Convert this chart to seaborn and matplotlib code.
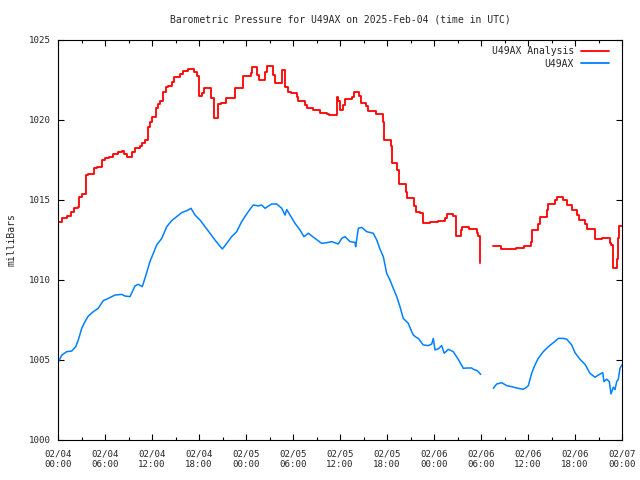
import numpy as np
import pandas as pd
import matplotlib
matplotlib.use("Agg")
import matplotlib.pyplot as plt
from matplotlib.lines import Line2D
from matplotlib.ticker import MultipleLocator
import seaborn as sns

# ---------------- data (hours after 2025-02-04 00:00 UTC, millibars) ----------------
red_hours = [0.0, 0.55, 1.1, 1.66, 2.04, 2.5, 2.7, 3.02, 3.57, 3.79, 4.6, 4.94, 5.57, 6.0, 6.51,
             7.06, 7.62, 8.13, 8.43, 8.77, 9.49, 9.83, 10.47, 10.77, 11.1, 11.45, 11.75, 12.04,
             12.47, 12.72, 13.0, 13.45, 13.75, 14.08, 14.5, 14.85, 15.57, 16.0, 16.64, 17.4, 17.7,
             18.0, 18.43, 18.68, 19.53, 19.96, 20.47, 20.77, 21.45, 22.6, 23.58, 24.6, 24.73,
             25.37, 25.7, 26.43, 26.72, 27.41, 27.7, 28.56, 28.98, 29.4, 29.7, 30.47, 30.68,
             31.53, 31.75, 32.51, 33.45, 34.38, 34.63, 35.58, 35.78, 36.0, 36.42, 36.64, 37.49,
             37.79, 38.46, 38.64, 39.32, 39.61, 40.6, 41.45, 41.66, 42.51, 42.68, 43.32, 43.57,
             44.43, 44.59, 45.49, 45.7, 46.21, 46.63, 47.49, 48.55, 49.4, 49.62, 50.46, 50.87,
             51.41, 51.61, 52.51, 53.45, 53.66, 53.91, np.nan,
             55.57, 56.55, 58.47, 59.49, 60.34, 60.55, 61.32, 61.53, 62.39, 62.59, 63.45, 63.66,
             64.51, 64.98, 65.58, 66.26, 66.55, 67.34, 67.57, 68.55, 69.49, 70.47, 70.6, 70.89,
             71.32, 71.49, 71.62, 72.0]
red_mbar = [1013.6, 1013.88, 1014.0, 1014.27, 1014.48, 1014.58, 1015.2, 1015.4, 1016.56, 1016.6,
            1016.98, 1017.04, 1017.5, 1017.6, 1017.7, 1017.85, 1017.98, 1018.06, 1017.9, 1017.67,
            1018.0, 1018.23, 1018.4, 1018.58, 1018.75, 1019.58, 1019.9, 1020.17, 1020.73, 1021.0,
            1021.2, 1021.77, 1022.08, 1022.1, 1022.4, 1022.67, 1022.9, 1023.06, 1023.17, 1023.0,
            1022.75, 1021.5, 1021.7, 1021.98, 1021.35, 1020.1, 1021.0, 1021.04, 1021.35, 1021.98,
            1022.75, 1022.96, 1023.3, 1022.8, 1022.5, 1023.0, 1023.37, 1022.8, 1022.3, 1023.1,
            1022.04, 1021.77, 1021.67, 1021.46, 1021.19, 1020.94, 1020.73, 1020.63, 1020.46,
            1020.38, 1020.31, 1021.42, 1021.2, 1020.63, 1020.94, 1021.29, 1021.46, 1021.73,
            1021.5, 1021.08, 1020.88, 1020.56, 1020.38, 1019.9, 1018.75, 1018.4, 1017.33, 1016.9,
            1016.0, 1015.5, 1015.15, 1014.6, 1014.25, 1014.2, 1013.54, 1013.6, 1013.69, 1013.9,
            1014.1, 1014.0, 1012.75, 1013.1, 1013.33, 1013.19, 1012.94, 1012.75, 1011.08, np.nan,
            1012.1, 1011.94, 1012.0, 1012.1, 1012.4, 1013.13, 1013.5, 1013.92, 1014.4, 1014.73,
            1015.0, 1015.17, 1015.0, 1014.7, 1014.38, 1014.05, 1013.75, 1013.5, 1013.19, 1012.56,
            1012.6, 1012.3, 1012.19, 1010.73, 1011.3, 1012.6, 1013.38, 1013.38]

blue_hours = [0.0, 0.47, 1.11, 1.75, 2.26, 2.59, 3.03, 3.45, 3.87, 4.51, 5.14, 5.78, 6.42, 7.28,
              8.13, 8.55, 9.19, 9.83, 10.25, 10.76, 11.32, 11.74, 12.17, 12.6, 13.24, 13.88,
              14.51, 15.15, 15.79, 16.43, 16.98, 17.49, 18.13, 18.77, 19.4, 20.04, 20.55, 20.98,
              21.54, 22.17, 22.81, 23.45, 24.09, 24.51, 24.93, 25.57, 26.0, 26.43, 27.28, 27.92,
              28.56, 28.98, 29.2, 29.62, 30.26, 30.89, 31.4, 31.95, 32.81, 33.66, 34.3, 34.94,
              35.78, 36.22, 36.64, 37.28, 37.91, 38.0, 38.34, 38.77, 39.41, 40.25, 40.69, 41.11,
              41.53, 41.96, 42.38, 42.8, 43.24, 43.66, 44.08, 44.72, 45.15, 45.36, 45.79, 46.0,
              46.63, 47.27, 47.71, 47.91, 48.13, 48.55, 48.98, 49.31, 49.83, 50.46, 51.1, 51.74,
              52.17, 52.81, 53.02, 53.53, 53.96, np.nan,
              55.57, 56.0, 56.64, 57.28, 57.92, 58.76, 59.4, 59.83, 60.04, 60.47, 60.89, 61.31,
              61.95, 62.59, 63.23, 63.87, 64.51, 64.94, 65.58, 66.0, 66.64, 67.28, 67.91, 68.55,
              68.98, 69.54, 69.7, 70.05, 70.38, 70.6, 70.89, 71.11, 71.32, 71.53, 71.74, 72.0]
blue_mbar = [1004.83, 1005.3, 1005.52, 1005.56, 1005.83, 1006.25, 1006.98, 1007.4, 1007.75,
             1008.02, 1008.23, 1008.71, 1008.85, 1009.06, 1009.1, 1009.0, 1008.96, 1009.63,
             1009.73, 1009.58, 1010.46, 1011.15, 1011.67, 1012.19, 1012.6, 1013.33, 1013.71,
             1013.96, 1014.21, 1014.33, 1014.48, 1014.06, 1013.75, 1013.33, 1012.92, 1012.5,
             1012.19, 1011.94, 1012.29, 1012.71, 1013.02, 1013.65, 1014.13, 1014.42, 1014.69,
             1014.63, 1014.69, 1014.48, 1014.75, 1014.75, 1014.48, 1014.06, 1014.4, 1014.06,
             1013.54, 1013.13, 1012.71, 1012.92, 1012.6, 1012.29, 1012.33, 1012.4, 1012.25,
             1012.6, 1012.71, 1012.4, 1012.35, 1012.08, 1013.23, 1013.29, 1013.02, 1012.92,
             1012.5, 1011.92, 1011.46, 1010.42, 1010.0, 1009.48, 1008.96, 1008.33, 1007.6,
             1007.29, 1006.77, 1006.56, 1006.4, 1006.35, 1005.94, 1005.9, 1006.0, 1006.35,
             1005.63, 1005.7, 1005.9, 1005.42, 1005.67, 1005.52, 1005.04, 1004.48, 1004.5,
             1004.5, 1004.42, 1004.33, 1004.1, np.nan,
             1003.23, 1003.5, 1003.58, 1003.4, 1003.33, 1003.23, 1003.17, 1003.3, 1003.4,
             1004.17, 1004.69, 1005.1, 1005.52, 1005.83, 1006.08, 1006.35, 1006.35, 1006.3,
             1005.94, 1005.46, 1005.04, 1004.73, 1004.17, 1003.92, 1004.06, 1004.21, 1003.65,
             1003.8, 1003.65, 1002.88, 1003.3, 1003.15, 1003.65, 1003.8, 1004.48, 1004.7]

series_names = ["U49AX Analysis", "U49AX"]
series_colors = ["#ff0000", "#0080ff"]
tick_hours = [0, 6, 12, 18, 24, 30, 36, 42, 48, 54, 60, 66, 72]
tick_labels = ["02/04\n00:00", "02/04\n06:00", "02/04\n12:00", "02/04\n18:00",
               "02/05\n00:00", "02/05\n06:00", "02/05\n12:00", "02/05\n18:00",
               "02/06\n00:00", "02/06\n06:00", "02/06\n12:00", "02/06\n18:00",
               "02/07\n00:00"]
y_ticks = [1000, 1005, 1010, 1015, 1020, 1025]
title = "Barometric Pressure for U49AX on 2025-Feb-04 (time in UTC)"
ylabel = "milliBars"


def segments(hours, vals):
    df = pd.DataFrame({"h": hours, "v": vals})
    df["seg"] = df["h"].isna().cumsum()
    df = df.dropna()
    return [g for _, g in df.groupby("seg")]


sns.set_style("ticks")
plt.rcParams["font.family"] = ["DejaVu Sans Mono"]
FS_T = 7.0
FS_K = 6.6

fig = plt.figure(figsize=(6.4, 4.8), dpi=100)
ax = fig.add_axes([58 / 640, 40 / 480, 564 / 640, 400 / 480])

for g in segments(red_hours, red_mbar):
    sns.lineplot(data=g, x="h", y="v", ax=ax, color=series_colors[0], linewidth=1.3,
                 drawstyle="steps-post", estimator=None, sort=False)
for g in segments(blue_hours, blue_mbar):
    sns.lineplot(data=g, x="h", y="v", ax=ax, color=series_colors[1], linewidth=1.1,
                 estimator=None, sort=False)

ax.set_xlim(0, 72)
ax.set_ylim(1000, 1025)
ax.set_xticks(tick_hours)
ax.set_xticklabels(tick_labels, fontsize=FS_K, linespacing=1.25)
ax.xaxis.set_minor_locator(MultipleLocator(3))
ax.set_yticks(y_ticks)
ax.set_yticklabels([str(v) for v in y_ticks], fontsize=FS_K)
ax.tick_params(which="both", direction="in", top=True, right=True, color="black",
               width=0.8)
ax.tick_params(which="major", length=4.5)
ax.tick_params(which="minor", length=2.5)
ax.tick_params(axis="x", pad=7)
ax.tick_params(axis="y", pad=5)
for s in ax.spines.values():
    s.set_visible(True)
    s.set_color("black")
    s.set_linewidth(0.8)

ax.set_xlabel("")
ax.set_ylabel("")
fig.text(11.5 / 640, 0.5, ylabel, rotation=90, ha="center", va="center", fontsize=FS_T)
fig.text(340 / 640, 1 - 20 / 480, title, ha="center", va="center", fontsize=FS_T)

handles = [Line2D([], [], color=c, linewidth=1.3) for c in series_colors]
ax.legend(handles, series_names, loc="upper right", frameon=False, markerfirst=False,
          fontsize=FS_T, handlelength=2.9, handletextpad=0.72, labelspacing=0.28,
          borderpad=0.0, borderaxespad=0.0,
          bbox_to_anchor=(1 - 13 / 564, 1 - 6 / 400))

fig.savefig("out.png", dpi=100, facecolor="white")
